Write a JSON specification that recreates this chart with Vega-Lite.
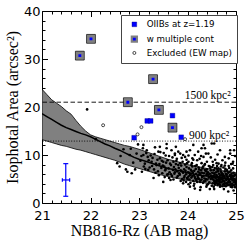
{
  "$schema": "https://vega.github.io/schema/vega-lite/v6.json",
  "width": 194,
  "height": 192,
  "autosize": {"type": "none"},
  "padding": {"left": 42, "top": 11, "right": 13, "bottom": 38},
  "config": {
    "view": {"stroke": "black", "strokeWidth": 1},
    "axis": {"grid": false, "domain": false, "tickColor": "black", "labelColor": "black", "titleColor": "black", "zindex": 1},
    "legend": {"orient": "none", "legendX": 79, "legendY": 4, "strokeColor": "#444", "fillColor": "white", "padding": 5, "labelFont": "DejaVu Sans", "labelFontSize": 8.7, "labelColor": "black", "rowPadding": 1.8, "labelOffset": 8, "symbolOffset": 4}
  },
  "resolve": {"axis": {"x": "independent", "y": "independent"}},
  "datasets": {
    "band": [
      {"mag": 21.0, "hi": 23.7, "med": 18.6, "lo": 13.2},
      {"mag": 21.1, "hi": 22.6, "med": 18.0, "lo": 12.9},
      {"mag": 21.2, "hi": 21.5, "med": 17.4, "lo": 12.6},
      {"mag": 21.3, "hi": 20.8, "med": 16.8, "lo": 12.3},
      {"mag": 21.4, "hi": 20.1, "med": 16.2, "lo": 12.0},
      {"mag": 21.5, "hi": 19.2, "med": 15.7, "lo": 11.8},
      {"mag": 21.6, "hi": 18.5, "med": 15.3, "lo": 11.5},
      {"mag": 21.7, "hi": 17.2, "med": 14.9, "lo": 11.2},
      {"mag": 21.8, "hi": 16.0, "med": 14.5, "lo": 11.0},
      {"mag": 21.9, "hi": 15.0, "med": 14.2, "lo": 10.7},
      {"mag": 22.0, "hi": 14.2, "med": 13.8, "lo": 10.4},
      {"mag": 22.1, "hi": 13.8, "med": 13.3, "lo": 10.1},
      {"mag": 22.2, "hi": 13.5, "med": 12.8, "lo": 9.8},
      {"mag": 22.3, "hi": 13.2, "med": 12.3, "lo": 9.5},
      {"mag": 22.4, "hi": 12.9, "med": 11.9, "lo": 9.2},
      {"mag": 22.5, "hi": 12.6, "med": 11.4, "lo": 8.9},
      {"mag": 22.6, "hi": 12.3, "med": 11.0, "lo": 8.5},
      {"mag": 22.7, "hi": 12.0, "med": 10.5, "lo": 8.1},
      {"mag": 22.8, "hi": 11.8, "med": 10.0, "lo": 7.8},
      {"mag": 22.9, "hi": 11.5, "med": 9.5, "lo": 7.5},
      {"mag": 23.0, "hi": 11.2, "med": 9.1, "lo": 7.2},
      {"mag": 23.2, "hi": 10.5, "med": 8.5, "lo": 6.6},
      {"mag": 23.4, "hi": 9.8, "med": 7.8, "lo": 6.0},
      {"mag": 23.6, "hi": 9.1, "med": 7.2, "lo": 5.5},
      {"mag": 23.8, "hi": 8.6, "med": 6.8, "lo": 5.1},
      {"mag": 24.0, "hi": 8.0, "med": 6.3, "lo": 4.7},
      {"mag": 24.2, "hi": 7.6, "med": 5.9, "lo": 4.4},
      {"mag": 24.4, "hi": 7.2, "med": 5.6, "lo": 4.1},
      {"mag": 24.6, "hi": 6.9, "med": 5.3, "lo": 3.9},
      {"mag": 24.8, "hi": 6.6, "med": 5.0, "lo": 3.7},
      {"mag": 25.0, "hi": 6.3, "med": 4.8, "lo": 3.5}
    ],
    "dots": [
      {"mag": 21.93, "area": 19.5}, {"mag": 22.11, "area": 13.3}, {"mag": 22.73, "area": 7.0}, {"mag": 22.76, "area": 6.5}, {"mag": 22.85, "area": 6.2}, {"mag": 22.81, "area": 10.0}, {"mag": 22.95, "area": 10.3},
      {"mag": 22.55, "area": 8.3}, {"mag": 22.62, "area": 9.8}, {"mag": 22.68, "area": 11.2}, {"mag": 22.88, "area": 8.4}, {"mag": 22.92, "area": 7.0}, {"mag": 22.98, "area": 12.2}, {"mag": 22.60, "area": 7.6}, {"mag": 22.83, "area": 11.3},
      {"mag": 23.09, "area": 12.1}, {"mag": 23.08, "area": 11.4}, {"mag": 23.16, "area": 11.0}, {"mag": 23.09, "area": 10.0}, {"mag": 23.33, "area": 11.6}, {"mag": 23.40, "area": 10.7}, {"mag": 23.43, "area": 11.7}, {"mag": 23.57, "area": 12.3}, {"mag": 23.57, "area": 11.4}, {"mag": 23.67, "area": 11.0}, {"mag": 23.74, "area": 10.0}, {"mag": 23.76, "area": 11.7}, {"mag": 23.74, "area": 10.3}, {"mag": 23.81, "area": 10.7}, {"mag": 23.91, "area": 10.0}, {"mag": 23.98, "area": 10.7}, {"mag": 24.05, "area": 11.0}, {"mag": 24.12, "area": 12.1}, {"mag": 24.15, "area": 10.0}, {"mag": 24.22, "area": 10.7}, {"mag": 24.29, "area": 11.4}, {"mag": 24.33, "area": 9.6}, {"mag": 24.33, "area": 12.1}, {"mag": 24.36, "area": 11.4}, {"mag": 24.38, "area": 10.3}, {"mag": 24.43, "area": 10.3}, {"mag": 24.50, "area": 12.4}, {"mag": 24.55, "area": 12.4}, {"mag": 24.57, "area": 9.0}, {"mag": 24.67, "area": 11.0}, {"mag": 24.77, "area": 9.6}, {"mag": 24.88, "area": 10.3}, {"mag": 24.88, "area": 11.0}, {"mag": 24.94, "area": 8.6}, {"mag": 24.96, "area": 11.0},
      {"mag": 23.43, "area": 9.3}, {"mag": 23.50, "area": 8.6}, {"mag": 23.71, "area": 8.6}, {"mag": 23.85, "area": 8.3}, {"mag": 23.98, "area": 9.0}, {"mag": 24.09, "area": 8.3}, {"mag": 24.19, "area": 7.9}, {"mag": 24.29, "area": 8.3}, {"mag": 24.40, "area": 8.6}, {"mag": 24.46, "area": 7.6}, {"mag": 24.60, "area": 7.2}, {"mag": 24.81, "area": 6.9}, {"mag": 24.70, "area": 7.9},
      {"mag": 23.62, "area": 9.8}, {"mag": 23.88, "area": 9.4}, {"mag": 24.02, "area": 9.9}, {"mag": 24.25, "area": 9.2}, {"mag": 24.48, "area": 9.5}, {"mag": 24.62, "area": 10.1}, {"mag": 24.72, "area": 8.9}, {"mag": 24.85, "area": 9.3}, {"mag": 24.98, "area": 9.8}, {"mag": 24.52, "area": 8.6}, {"mag": 24.90, "area": 8.1}, {"mag": 24.78, "area": 8.4}, {"mag": 24.64, "area": 8.2}, {"mag": 24.35, "area": 7.9}, {"mag": 24.10, "area": 9.3}, {"mag": 23.95, "area": 8.0}, {"mag": 23.78, "area": 9.2}, {"mag": 23.55, "area": 9.9}, {"mag": 23.28, "area": 9.4}, {"mag": 23.20, "area": 8.9}, {"mag": 23.35, "area": 8.2},
      {"mag": 23.06, "area": 6.5}, {"mag": 23.50, "area": 4.4}, {"mag": 23.91, "area": 4.1}, {"mag": 24.05, "area": 3.4}, {"mag": 24.26, "area": 2.7}, {"mag": 24.67, "area": 3.4}, {"mag": 24.84, "area": 2.4}, {"mag": 24.40, "area": 3.75}, {"mag": 23.30, "area": 5.2}, {"mag": 23.65, "area": 4.8}, {"mag": 24.15, "area": 3.0}, {"mag": 24.55, "area": 2.9}, {"mag": 24.95, "area": 2.6}, {"mag": 24.75, "area": 2.9},
      {"mag": 23.03, "area": 8.8}, {"mag": 23.12, "area": 8.2}, {"mag": 23.18, "area": 9.6}, {"mag": 23.22, "area": 7.4}, {"mag": 23.26, "area": 8.6}, {"mag": 23.31, "area": 7.0}, {"mag": 23.36, "area": 7.9}, {"mag": 23.39, "area": 6.6}, {"mag": 23.42, "area": 8.1}, {"mag": 23.46, "area": 7.3}, {"mag": 23.48, "area": 6.2}, {"mag": 23.13, "area": 7.1},
      {"mag": 23.05, "area": 9.8}, {"mag": 23.10, "area": 7.6}, {"mag": 23.15, "area": 10.4}, {"mag": 23.19, "area": 6.9}, {"mag": 23.24, "area": 9.9}, {"mag": 23.27, "area": 7.7}, {"mag": 23.32, "area": 10.2}, {"mag": 23.34, "area": 6.3}, {"mag": 23.38, "area": 9.0}, {"mag": 23.41, "area": 5.8}, {"mag": 23.44, "area": 10.6}, {"mag": 23.47, "area": 8.8}, {"mag": 23.49, "area": 7.8},
      {"mag": 23.51, "area": 10.4}, {"mag": 23.53, "area": 5.4}, {"mag": 23.55, "area": 7.1}, {"mag": 23.59, "area": 8.9}, {"mag": 23.62, "area": 5.2}, {"mag": 23.64, "area": 8.2}, {"mag": 23.66, "area": 6.0}, {"mag": 23.69, "area": 9.5}, {"mag": 23.71, "area": 4.9}, {"mag": 23.74, "area": 6.4}, {"mag": 23.77, "area": 8.8}, {"mag": 23.80, "area": 5.6}, {"mag": 23.81, "area": 7.9}, {"mag": 23.85, "area": 10.3}, {"mag": 23.86, "area": 4.6}, {"mag": 23.88, "area": 6.6}, {"mag": 23.90, "area": 8.6}, {"mag": 23.93, "area": 5.3}, {"mag": 23.95, "area": 9.6}, {"mag": 23.97, "area": 4.4}, {"mag": 23.99, "area": 8.3},
      {"mag": 23.52, "area": 7.6}, {"mag": 23.54, "area": 6.8}, {"mag": 23.56, "area": 8.4}, {"mag": 23.58, "area": 5.9}, {"mag": 23.61, "area": 7.2}, {"mag": 23.63, "area": 6.4}, {"mag": 23.66, "area": 7.9}, {"mag": 23.68, "area": 5.6}, {"mag": 23.70, "area": 6.9}, {"mag": 23.72, "area": 7.5}, {"mag": 23.73, "area": 6.1}, {"mag": 23.76, "area": 8.1}, {"mag": 23.78, "area": 5.3}, {"mag": 23.79, "area": 6.6}, {"mag": 23.82, "area": 7.3}, {"mag": 23.84, "area": 5.9}, {"mag": 23.86, "area": 6.8}, {"mag": 23.87, "area": 7.8}, {"mag": 23.89, "area": 5.0}, {"mag": 23.91, "area": 6.3}, {"mag": 23.93, "area": 7.0}, {"mag": 23.94, "area": 5.6}, {"mag": 23.96, "area": 6.7}, {"mag": 23.98, "area": 7.5}, {"mag": 23.99, "area": 5.2}, {"mag": 23.60, "area": 6.0}, {"mag": 23.75, "area": 7.0}, {"mag": 23.83, "area": 6.2}, {"mag": 23.92, "area": 4.7}, {"mag": 23.97, "area": 6.0},
      {"mag": 24.00, "area": 5.0}, {"mag": 24.02, "area": 8.6}, {"mag": 24.04, "area": 6.3}, {"mag": 24.06, "area": 4.2}, {"mag": 24.08, "area": 7.9}, {"mag": 24.10, "area": 5.6}, {"mag": 24.12, "area": 9.0}, {"mag": 24.14, "area": 4.0}, {"mag": 24.16, "area": 7.7}, {"mag": 24.18, "area": 4.8}, {"mag": 24.20, "area": 8.9}, {"mag": 24.22, "area": 5.2}, {"mag": 24.24, "area": 7.0}, {"mag": 24.26, "area": 4.4}, {"mag": 24.28, "area": 9.8}, {"mag": 24.30, "area": 6.3}, {"mag": 24.32, "area": 7.6}, {"mag": 24.34, "area": 4.5}, {"mag": 24.36, "area": 8.1}, {"mag": 24.38, "area": 5.0}, {"mag": 24.40, "area": 6.1}, {"mag": 24.42, "area": 3.9}, {"mag": 24.44, "area": 7.7}, {"mag": 24.46, "area": 5.5}, {"mag": 24.48, "area": 6.8}, {"mag": 24.50, "area": 3.6}, {"mag": 24.02, "area": 3.9}, {"mag": 24.13, "area": 3.6}, {"mag": 24.27, "area": 3.3}, {"mag": 24.39, "area": 3.4}, {"mag": 24.46, "area": 2.9},
      {"mag": 24.01, "area": 6.4}, {"mag": 24.02, "area": 5.5}, {"mag": 24.03, "area": 7.2}, {"mag": 24.04, "area": 4.9}, {"mag": 24.06, "area": 6.0}, {"mag": 24.07, "area": 6.9}, {"mag": 24.08, "area": 5.3}, {"mag": 24.10, "area": 7.6}, {"mag": 24.11, "area": 6.3}, {"mag": 24.12, "area": 4.6}, {"mag": 24.13, "area": 5.8}, {"mag": 24.14, "area": 6.7}, {"mag": 24.16, "area": 5.1}, {"mag": 24.17, "area": 7.1}, {"mag": 24.18, "area": 6.1}, {"mag": 24.20, "area": 4.4}, {"mag": 24.21, "area": 5.6}, {"mag": 24.22, "area": 6.5}, {"mag": 24.23, "area": 7.4}, {"mag": 24.24, "area": 5.0}, {"mag": 24.26, "area": 6.0}, {"mag": 24.27, "area": 4.7}, {"mag": 24.28, "area": 6.8}, {"mag": 24.30, "area": 5.4}, {"mag": 24.31, "area": 7.2}, {"mag": 24.32, "area": 4.2}, {"mag": 24.34, "area": 6.2}, {"mag": 24.35, "area": 5.1}, {"mag": 24.36, "area": 6.9}, {"mag": 24.37, "area": 4.6}, {"mag": 24.39, "area": 5.8}, {"mag": 24.40, "area": 7.0}, {"mag": 24.41, "area": 4.9}, {"mag": 24.42, "area": 6.4}, {"mag": 24.44, "area": 5.3}, {"mag": 24.45, "area": 4.3}, {"mag": 24.46, "area": 6.1}, {"mag": 24.47, "area": 7.3}, {"mag": 24.48, "area": 5.0}, {"mag": 24.49, "area": 5.7}, {"mag": 24.15, "area": 5.4}, {"mag": 24.25, "area": 6.3}, {"mag": 24.33, "area": 5.6}, {"mag": 24.43, "area": 5.9}, {"mag": 24.09, "area": 6.6}, {"mag": 24.19, "area": 5.0}, {"mag": 24.29, "area": 4.9}, {"mag": 24.38, "area": 6.6}, {"mag": 24.05, "area": 5.8}, {"mag": 24.24, "area": 5.9},
      {"mag": 24.50, "area": 5.2}, {"mag": 24.51, "area": 6.3}, {"mag": 24.52, "area": 4.1}, {"mag": 24.53, "area": 5.6}, {"mag": 24.54, "area": 6.8}, {"mag": 24.55, "area": 4.6}, {"mag": 24.56, "area": 5.9}, {"mag": 24.57, "area": 3.8}, {"mag": 24.58, "area": 5.1}, {"mag": 24.59, "area": 6.4}, {"mag": 24.60, "area": 4.4}, {"mag": 24.61, "area": 5.5}, {"mag": 24.62, "area": 6.9}, {"mag": 24.63, "area": 4.0}, {"mag": 24.64, "area": 5.0}, {"mag": 24.65, "area": 6.1}, {"mag": 24.66, "area": 4.7}, {"mag": 24.67, "area": 5.7}, {"mag": 24.68, "area": 3.6}, {"mag": 24.69, "area": 6.5}, {"mag": 24.70, "area": 4.3}, {"mag": 24.71, "area": 5.3}, {"mag": 24.72, "area": 4.9}, {"mag": 24.73, "area": 6.0}, {"mag": 24.74, "area": 3.9}, {"mag": 24.75, "area": 5.6}, {"mag": 24.76, "area": 4.5}, {"mag": 24.77, "area": 6.6}, {"mag": 24.78, "area": 5.1}, {"mag": 24.79, "area": 3.5}, {"mag": 24.80, "area": 4.8}, {"mag": 24.81, "area": 5.9}, {"mag": 24.82, "area": 4.2}, {"mag": 24.83, "area": 5.4}, {"mag": 24.84, "area": 6.3}, {"mag": 24.85, "area": 3.8}, {"mag": 24.86, "area": 4.9}, {"mag": 24.87, "area": 5.7}, {"mag": 24.88, "area": 4.4}, {"mag": 24.89, "area": 3.4}, {"mag": 24.90, "area": 5.2}, {"mag": 24.91, "area": 6.1}, {"mag": 24.92, "area": 4.0}, {"mag": 24.93, "area": 4.7}, {"mag": 24.94, "area": 5.5}, {"mag": 24.95, "area": 3.7}, {"mag": 24.96, "area": 4.3}, {"mag": 24.97, "area": 5.0}, {"mag": 24.98, "area": 5.9}, {"mag": 24.99, "area": 3.9},
      {"mag": 24.53, "area": 4.9}, {"mag": 24.57, "area": 5.4}, {"mag": 24.61, "area": 4.8}, {"mag": 24.65, "area": 5.4}, {"mag": 24.69, "area": 4.9}, {"mag": 24.73, "area": 4.6}, {"mag": 24.77, "area": 4.1}, {"mag": 24.81, "area": 5.1}, {"mag": 24.85, "area": 4.6}, {"mag": 24.89, "area": 5.5}, {"mag": 24.93, "area": 5.1}, {"mag": 24.97, "area": 4.6}, {"mag": 24.55, "area": 6.2}, {"mag": 24.63, "area": 6.6}, {"mag": 24.71, "area": 6.2}, {"mag": 24.79, "area": 6.1}, {"mag": 24.87, "area": 6.5}, {"mag": 24.95, "area": 6.3}, {"mag": 24.59, "area": 4.2}, {"mag": 24.67, "area": 4.3}, {"mag": 24.75, "area": 4.0}, {"mag": 24.83, "area": 3.7}, {"mag": 24.91, "area": 3.6}, {"mag": 24.99, "area": 4.4},
      {"mag": 24.51, "area": 7.5}, {"mag": 24.54, "area": 3.4}, {"mag": 24.56, "area": 7.3}, {"mag": 24.58, "area": 4.5}, {"mag": 24.60, "area": 8.3}, {"mag": 24.62, "area": 3.7}, {"mag": 24.64, "area": 7.2}, {"mag": 24.66, "area": 3.9}, {"mag": 24.68, "area": 7.0}, {"mag": 24.70, "area": 5.9}, {"mag": 24.72, "area": 3.5}, {"mag": 24.74, "area": 7.4}, {"mag": 24.76, "area": 3.6}, {"mag": 24.78, "area": 7.1}, {"mag": 24.80, "area": 4.0}, {"mag": 24.82, "area": 6.7}, {"mag": 24.84, "area": 4.3}, {"mag": 24.86, "area": 7.3}, {"mag": 24.88, "area": 3.9}, {"mag": 24.90, "area": 6.8}, {"mag": 24.92, "area": 3.3}, {"mag": 24.94, "area": 7.2}, {"mag": 24.96, "area": 5.7}, {"mag": 24.98, "area": 3.3},
      {"mag": 24.52, "area": 5.3}, {"mag": 24.56, "area": 4.2}, {"mag": 24.60, "area": 5.8}, {"mag": 24.64, "area": 4.5}, {"mag": 24.68, "area": 5.2}, {"mag": 24.72, "area": 5.6}, {"mag": 24.76, "area": 5.3}, {"mag": 24.80, "area": 5.6}, {"mag": 24.84, "area": 5.0}, {"mag": 24.88, "area": 5.8}, {"mag": 24.92, "area": 5.6}, {"mag": 24.96, "area": 4.9}, {"mag": 24.53, "area": 7.9}, {"mag": 24.61, "area": 7.7}, {"mag": 24.69, "area": 7.6}, {"mag": 24.77, "area": 7.8}, {"mag": 24.85, "area": 7.7}, {"mag": 24.93, "area": 8.2}
    ],
    "obj": [
      {"mag": 22.01, "area": 34.2, "type": "w multiple cont"},
      {"mag": 21.78, "area": 30.7, "type": "w multiple cont"},
      {"mag": 23.29, "area": 25.8, "type": "w multiple cont"},
      {"mag": 22.77, "area": 21.0, "type": "w multiple cont"},
      {"mag": 23.41, "area": 19.4, "type": "w multiple cont"},
      {"mag": 23.69, "area": 15.7, "type": "w multiple cont"},
      {"mag": 23.69, "area": 18.2, "type": "OIIBs at z=1.19"},
      {"mag": 23.17, "area": 17.1, "type": "OIIBs at z=1.19"},
      {"mag": 23.24, "area": 17.1, "type": "OIIBs at z=1.19"},
      {"mag": 22.90, "area": 13.6, "type": "OIIBs at z=1.19"},
      {"mag": 23.87, "area": 13.7, "type": "OIIBs at z=1.19"},
      {"mag": 22.26, "area": 16.2, "type": "Excluded (EW map)"},
      {"mag": 22.97, "area": 14.3, "type": "Excluded (EW map)"},
      {"mag": 23.05, "area": 15.8, "type": "Excluded (EW map)"},
      {"mag": 23.95, "area": 13.3, "type": "Excluded (EW map)"}
    ]
  },
  "layer": [
    {
      "data": {"name": "band"},
      "mark": {"type": "area", "fill": "#808080", "stroke": "black", "strokeWidth": 0.8, "clip": true},
      "encoding": {
        "x": {"field": "mag", "type": "quantitative", "scale": {"domain": [21, 25], "nice": false, "zero": false},
          "axis": {"orient": "bottom", "values": [21, 22, 23, 24, 25], "format": "d", "ticks": false, "labelPadding": 6, "labelFlush": false, "labelFont": "DejaVu Sans", "labelFontSize": 13,
            "title": "NB816-Rz (AB mag)", "titleFont": "Liberation Serif", "titleFontSize": 16, "titleFontWeight": "normal", "titlePadding": 0}},
        "y": {"field": "hi", "type": "quantitative", "scale": {"domain": [0, 40], "nice": false, "zero": false},
          "axis": {"orient": "left", "values": [0, 10, 20, 30, 40], "format": "d", "ticks": false, "labelPadding": 2, "labelFlush": false, "labelFont": "DejaVu Sans", "labelFontSize": 13,
            "title": "Isophotal Area (arcsec²)", "titleFont": "Liberation Serif", "titleFontSize": 16, "titleFontWeight": "normal", "titlePadding": 3}},
        "y2": {"field": "lo"}
      }
    },
    {
      "data": {"name": "band"},
      "mark": {"type": "line", "color": "black", "strokeWidth": 1.5, "clip": true},
      "encoding": {
        "x": {"field": "mag", "type": "quantitative", "scale": {"domain": [21, 25], "nice": false, "zero": false},
          "axis": {"orient": "bottom", "values": [21, 22, 23, 24, 25], "labels": false, "tickSize": -5.5, "title": null}},
        "y": {"field": "med", "type": "quantitative", "scale": {"domain": [0, 40], "nice": false, "zero": false},
          "axis": {"orient": "left", "values": [0, 10, 20, 30, 40], "labels": false, "tickSize": -5.5, "title": null}}
      }
    },
    {
      "data": {"name": "dots"},
      "mark": {"type": "circle", "size": 7, "color": "black", "opacity": 1, "clip": true},
      "encoding": {
        "x": {"field": "mag", "type": "quantitative", "scale": {"domain": [21, 25], "nice": false, "zero": false},
          "axis": {"orient": "bottom", "values": [21.2, 21.4, 21.6, 21.8, 22.2, 22.4, 22.6, 22.8, 23.2, 23.4, 23.6, 23.8, 24.2, 24.4, 24.6, 24.8], "labels": false, "tickSize": -3, "title": null}},
        "y": {"field": "area", "type": "quantitative", "scale": {"domain": [0, 40], "nice": false, "zero": false},
          "axis": {"orient": "left", "values": [2, 4, 6, 8, 12, 14, 16, 18, 22, 24, 26, 28, 32, 34, 36, 38], "labels": false, "tickSize": -3, "title": null}}
      }
    },
    {
      "data": {"values": [{"y": 21.0}]},
      "mark": {"type": "rule", "color": "black", "strokeWidth": 0.9, "strokeDash": [4.5, 2.5]},
      "encoding": {"y": {"field": "y", "type": "quantitative", "scale": {"domain": [0, 40], "nice": false, "zero": false}, "axis": null}}
    },
    {
      "data": {"values": [{"y": 12.9}]},
      "mark": {"type": "rule", "color": "black", "strokeWidth": 0.9, "strokeDash": [1, 1.6]},
      "encoding": {"y": {"field": "y", "type": "quantitative", "scale": {"domain": [0, 40], "nice": false, "zero": false}, "axis": null}}
    },
    {
      "data": {"values": [{"mag": 24.89, "area": 21.6, "t": "1500 kpc²"}, {"mag": 24.86, "area": 13.3, "t": "900 kpc²"}]},
      "mark": {"type": "text", "align": "right", "baseline": "alphabetic", "font": "Liberation Serif", "fontSize": 11.5, "color": "black"},
      "encoding": {
        "x": {"field": "mag", "type": "quantitative", "scale": {"domain": [21, 25], "nice": false, "zero": false}, "axis": null},
        "y": {"field": "area", "type": "quantitative", "scale": {"domain": [0, 40], "nice": false, "zero": false}, "axis": null},
        "text": {"field": "t"}
      }
    },
    {
      "data": {"name": "obj"},
      "transform": [{"filter": "datum.type === 'w multiple cont'"}],
      "mark": {"type": "square", "size": 78, "fill": "#808080", "stroke": "black", "strokeWidth": 0.7, "opacity": 1},
      "encoding": {
        "x": {"field": "mag", "type": "quantitative", "scale": {"domain": [21, 25], "nice": false, "zero": false},
          "axis": {"orient": "top", "values": [21, 22, 23, 24, 25], "labels": false, "tickSize": -5.5, "title": null}},
        "y": {"field": "area", "type": "quantitative", "scale": {"domain": [0, 40], "nice": false, "zero": false},
          "axis": {"orient": "right", "values": [0, 10, 20, 30, 40], "labels": false, "tickSize": -5.5, "title": null}}
      }
    },
    {
      "data": {"name": "obj"},
      "mark": {"type": "point", "opacity": 1, "filled": false},
      "encoding": {
        "x": {"field": "mag", "type": "quantitative", "scale": {"domain": [21, 25], "nice": false, "zero": false},
          "axis": {"orient": "top", "values": [21.2, 21.4, 21.6, 21.8, 22.2, 22.4, 22.6, 22.8, 23.2, 23.4, 23.6, 23.8, 24.2, 24.4, 24.6, 24.8], "labels": false, "tickSize": -3, "title": null}},
        "y": {"field": "area", "type": "quantitative", "scale": {"domain": [0, 40], "nice": false, "zero": false},
          "axis": {"orient": "right", "values": [2, 4, 6, 8, 12, 14, 16, 18, 22, 24, 26, 28, 32, 34, 36, 38], "labels": false, "tickSize": -3, "title": null}},
        "shape": {"field": "type", "type": "nominal", "scale": {"domain": ["OIIBs at z=1.19", "w multiple cont", "Excluded (EW map)"], "range": ["square", "square", "circle"]}, "legend": {"title": null}},
        "fill": {"field": "type", "type": "nominal", "scale": {"domain": ["OIIBs at z=1.19", "w multiple cont", "Excluded (EW map)"], "range": ["#0000ff", "#0000ff", "#ffffff"]}, "legend": {"title": null}},
        "stroke": {"field": "type", "type": "nominal", "scale": {"domain": ["OIIBs at z=1.19", "w multiple cont", "Excluded (EW map)"], "range": ["#000080", "#808080", "#000000"]}, "legend": {"title": null}},
        "strokeWidth": {"field": "type", "type": "nominal", "scale": {"type": "ordinal", "domain": ["OIIBs at z=1.19", "w multiple cont", "Excluded (EW map)"], "range": [0.4, 2.2, 0.7]}, "legend": {"title": null}},
        "size": {"field": "type", "type": "nominal", "scale": {"type": "ordinal", "domain": ["OIIBs at z=1.19", "w multiple cont", "Excluded (EW map)"], "range": [22, 26, 9]}, "legend": {"title": null}}
      }
    },
    {
      "data": {"values": [{"x": 21.49, "x2": 21.49, "y": 1.4, "y2": 8.2}, {"x": 21.42, "x2": 21.57, "y": 4.8, "y2": 4.8}]},
      "mark": {"type": "rule", "color": "#0000ff", "strokeWidth": 1.2},
      "encoding": {
        "x": {"field": "x", "type": "quantitative", "scale": {"domain": [21, 25], "nice": false, "zero": false}, "axis": null},
        "x2": {"field": "x2"},
        "y": {"field": "y", "type": "quantitative", "scale": {"domain": [0, 40], "nice": false, "zero": false}, "axis": null},
        "y2": {"field": "y2"}
      }
    },
    {
      "data": {"values": [{"x": 21.49, "y": 1.4}, {"x": 21.49, "y": 8.2}]},
      "mark": {"type": "tick", "orient": "horizontal", "color": "#0000ff", "size": 5, "thickness": 1.2, "opacity": 1},
      "encoding": {
        "x": {"field": "x", "type": "quantitative", "scale": {"domain": [21, 25], "nice": false, "zero": false}, "axis": null},
        "y": {"field": "y", "type": "quantitative", "scale": {"domain": [0, 40], "nice": false, "zero": false}, "axis": null}
      }
    },
    {
      "data": {"values": [{"x": 21.42, "y": 4.8}, {"x": 21.57, "y": 4.8}]},
      "mark": {"type": "tick", "orient": "vertical", "color": "#0000ff", "size": 3.5, "thickness": 1.2, "opacity": 1},
      "encoding": {
        "x": {"field": "x", "type": "quantitative", "scale": {"domain": [21, 25], "nice": false, "zero": false}, "axis": null},
        "y": {"field": "y", "type": "quantitative", "scale": {"domain": [0, 40], "nice": false, "zero": false}, "axis": null}
      }
    }
  ]
}
